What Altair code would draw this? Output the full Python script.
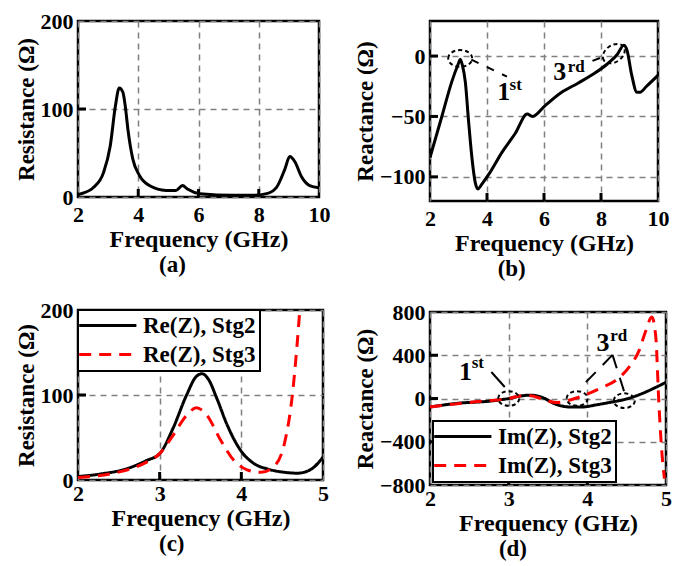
import altair as alt
import pandas as pd

FONT = "Liberation Serif"

# ---------------- data ----------------
# (a) resistance vs frequency, 2-10 GHz
a_freq = [2.0, 2.09, 2.52, 2.85, 3.07, 3.24, 3.37, 3.49, 3.57, 3.66, 3.82, 4.04, 4.37, 4.92,
          5.25, 5.47, 5.63, 6.05, 7.15, 7.82, 8.26, 8.59, 8.87, 9.03, 9.2, 9.42, 9.69, 10.0]
a_res = [2.6, 3.5, 11, 28, 58, 103, 124, 119, 103, 76, 43, 24.5, 13, 7.5,
         7.5, 13, 9, 3.8, 1.9, 1.9, 3.8, 11, 32, 46, 40, 23, 13, 10.6]

# (b) reactance vs frequency, 2-10 GHz
b_freq = [2.0, 2.41, 2.76, 3.0, 3.06, 3.14, 3.24, 3.35, 3.47, 3.59, 3.68, 3.82, 4.06, 4.53,
          5.0, 5.41, 5.6, 6.04, 6.62, 7.19, 7.76, 8.22, 8.57, 8.80, 8.91, 9.08, 9.26, 9.37, 9.60, 10.0]
b_reac = [-84, -50.5, -21.6, -6, -2.6, -8, -21.6, -53, -84, -105, -110, -106, -98, -79.5,
          -63.7, -48, -50, -41, -30, -22.5, -14.5, -6.6, 1.3, 9, 5, -16, -30, -30, -25, -16]

# (c) resistance, two stages, 2-5 GHz
c_series = ["Re(Z), Stg2", "Re(Z), Stg3"]
c_freq_s2 = [2.0, 2.27, 2.59, 2.84, 3.0, 3.16, 3.33, 3.45, 3.52, 3.60, 3.70, 3.83, 3.99,
             4.16, 4.32, 4.53, 4.69, 4.86, 5.0]
c_res_s2 = [4, 7, 13, 23, 31, 60, 100, 122, 125, 118, 96, 64, 35,
            19, 13, 9, 8, 13, 27]
c_freq_s3 = [2.0, 2.48, 2.84, 3.0, 3.16, 3.33, 3.45, 3.58, 3.74, 3.91, 4.07, 4.24, 4.41,
             4.53, 4.62, 4.68, 4.72]
c_res_s3 = [3, 9, 21, 31, 52, 76, 85, 76, 48, 23, 12, 9, 17,
            44, 96, 156, 205]

# (d) reactance, two stages, 2-5 GHz
d_series = ["Im(Z), Stg2", "Im(Z), Stg3"]
d_freq_s2 = [2.0, 2.36, 2.79, 3.0, 3.17, 3.28, 3.43, 3.6, 3.77, 3.94, 4.11, 4.28, 4.49,
             4.7, 4.87, 5.0]
d_reac_s2 = [-78, -44, -22, 0, 25, 31, 9, -53, -78, -78, -59, -37, -6,
             47, 103, 150]
d_freq_s3 = [2.0, 2.57, 3.0, 3.17, 3.28, 3.43, 3.6, 3.77, 4.0, 4.19, 4.36, 4.53, 4.66,
             4.74, 4.82, 4.87, 4.91, 4.95, 4.98]
d_reac_s3 = [-78, -31, 0, 25, 25, -6, -37, -16, 41, 103, 166, 291, 447,
             619, 753, 572, -53, -522, -741]

# axis tick labels
ab_xticks = [2, 4, 6, 8, 10]
cd_xticks = [2, 3, 4, 5]
a_yticks = [0, 100, 200]
b_yticks = [-100, -50, 0]
c_yticks = [0, 100, 200]
d_yticks = [-800, -400, 0, 400, 800]

# inward tick marks
a_xin, a_yin = [4, 6, 8], [100]
b_xin, b_yin = [4, 6, 8], [-100, -50, 0]
c_xin, c_yin = [3, 4], [100]
d_xin, d_yin = [3, 4], [-400, 0, 400]

# annotations (data coordinates)
b_ell_f, b_ell_v, b_ell_ang = [3.06, 8.45], [-2, 2], [0, 325]
b_lines = [  # (f1, v1, f2, v2)
    (3.45, -3, 4.7, -17),
    (7.7, -4, 8.15, 0),
]
b_main_txt = [("1", 4.59, -36), ("3", 6.55, -20)]
b_sup_txt = [("st", 4.79, -28), ("rd", 6.83, -13)]

d_ell_f, d_ell_v = [3.0, 3.87, 4.47], [0, 0, -20]
d_solid_lines = [(2.78, 245, 2.95, 106)]
d_dash_lines = [(4.32, 403, 3.91, 98), (4.32, 403, 4.47, 60)]
d_main_txt = [("1", 2.45, 171), ("3", 4.2, 440)]
d_sup_txt = [("st", 2.53, 282), ("rd", 4.29, 532)]

ELLIPSE = "M-1,0A1,0.7,0,1,1,1,0A1,0.7,0,1,1,-1,0Z"
LEGEND_LINE = "M-2.6,0L7.8,0"

AXIS_STYLE = dict(
    grid=True, ticks=False, domain=False, gridColor="#808080", gridDash=[6, 5], gridWidth=1.5,
    labelFlush=False, labelOverlap=False, format="d",
    labelFont=FONT, labelFontSize=22, labelFontWeight="bold", labelColor="black",
    titleFont=FONT, titleFontWeight="bold", titleColor="black",
)


# ---------------- helpers ----------------
def xaxis(values, label_pad=7):
    return alt.Axis(values=values, title="Frequency (GHz)", labelPadding=label_pad,
                    titlePadding=2, titleFontSize=24, **AXIS_STYLE)


def yaxis(values, title):
    return alt.Axis(values=values, title=title, labelPadding=5, titlePadding=2,
                    titleFontSize=23, **AXIS_STYLE)


def inward_ticks(xin, yin, xs, ys, h):
    xt = alt.Chart(pd.DataFrame({"t": xin})).mark_rule(color="black", strokeWidth=3).encode(
        x=alt.X("t:Q", scale=xs), y=alt.value(h), y2=alt.value(h - 8))
    yt = alt.Chart(pd.DataFrame({"t": yin})).mark_rule(color="black", strokeWidth=3).encode(
        y=alt.Y("t:Q", scale=ys), x=alt.value(0), x2=alt.value(8))
    return [xt, yt]


def seg_layer(lines, xs, ys, dash=None):
    df = pd.DataFrame(lines, columns=["f1", "v1", "f2", "v2"])
    kw = dict(color="black", strokeWidth=2)
    if dash:
        kw["strokeDash"] = dash
    return alt.Chart(df).mark_rule(**kw).encode(
        x=alt.X("f1:Q", scale=xs), y=alt.Y("v1:Q", scale=ys),
        x2="f2:Q", y2="v2:Q")


def text_layers(main, sup, xs, ys):
    mdf = pd.DataFrame(main, columns=["s", "f", "v"])
    sdf = pd.DataFrame(sup, columns=["s", "f", "v"])
    m = alt.Chart(mdf).mark_text(font=FONT, fontSize=26, fontWeight="bold", align="center",
                                 baseline="alphabetic", color="black").encode(
        x=alt.X("f:Q", scale=xs), y=alt.Y("v:Q", scale=ys), text="s:N")
    s = alt.Chart(sdf).mark_text(font=FONT, fontSize=17, fontWeight="bold", align="left",
                                 baseline="alphabetic", color="black").encode(
        x=alt.X("f:Q", scale=xs), y=alt.Y("v:Q", scale=ys), text="s:N")
    return [m, s]


def ellipse_layer(fs, vs, xs, ys, size, angles=None):
    df = pd.DataFrame({"f": fs, "v": vs, "a": angles if angles else [0] * len(fs)})
    return alt.Chart(df).mark_point(shape=ELLIPSE, filled=False, stroke="black", strokeWidth=2,
                                    strokeDash=[4, 3], opacity=1).encode(
        x=alt.X("f:Q", scale=xs), y=alt.Y("v:Q", scale=ys),
        size=alt.value(size), angle=alt.Angle("a:Q", scale=None))


def panel_title(t):
    return alt.TitleParams(text=t, orient="bottom", anchor="middle", frame="bounds", font=FONT,
                           fontSize=23, fontWeight="bold", color="black", offset=3)


LINE = dict(strokeWidth=3, clip=True, interpolate="monotone")

# ---------------- panel (a) ----------------
axs = alt.Scale(domain=[2, 10], nice=False, zero=False)
ays = alt.Scale(domain=[0, 200], nice=False, zero=False)
a_df = pd.DataFrame({"f": a_freq, "v": a_res})
a_line = alt.Chart(a_df).mark_line(color="black", **LINE).encode(
    x=alt.X("f:Q", scale=axs, axis=xaxis(ab_xticks)),
    y=alt.Y("v:Q", scale=ays, axis=yaxis(a_yticks, "Resistance (Ω)")))
A_W, A_H = 241, 176
panel_a = alt.layer(a_line, *inward_ticks(a_xin, a_yin, axs, ays, A_H)).properties(
    width=A_W, height=A_H, title=panel_title("(a)"))

# ---------------- panel (b) ----------------
bxs = alt.Scale(domain=[2, 10], nice=False, zero=False)
bys = alt.Scale(domain=[-120, 29], nice=False, zero=False)
b_df = pd.DataFrame({"f": b_freq, "v": b_reac})
b_line = alt.Chart(b_df).mark_line(color="black", **LINE).encode(
    x=alt.X("f:Q", scale=bxs, axis=xaxis(ab_xticks)),
    y=alt.Y("v:Q", scale=bys, axis=yaxis(b_yticks, "Reactance (Ω)")))
B_W, B_H = 228, 180
panel_b = alt.layer(
    b_line, *inward_ticks(b_xin, b_yin, bxs, bys, B_H),
    ellipse_layer(b_ell_f, b_ell_v, bxs, bys, 576, b_ell_ang),
    seg_layer(b_lines, bxs, bys, dash=[8, 9]),
    *text_layers(b_main_txt, b_sup_txt, bxs, bys),
).properties(width=B_W, height=B_H, title=panel_title("(b)"))

# ---------------- panel (c) ----------------
cxs = alt.Scale(domain=[2, 5], nice=False, zero=False)
cys = alt.Scale(domain=[0, 200], nice=False, zero=False)
c_df = pd.DataFrame({
    "f": c_freq_s2 + c_freq_s3,
    "v": c_res_s2 + c_res_s3,
    "s": [c_series[0]] * len(c_freq_s2) + [c_series[1]] * len(c_freq_s3),
})
c_leg = alt.Legend(orient="top-left", offset=0, title=None)
c_line = alt.Chart(c_df).mark_line(**LINE).encode(
    x=alt.X("f:Q", scale=cxs, axis=xaxis(cd_xticks, 3)),
    y=alt.Y("v:Q", scale=cys, axis=yaxis(c_yticks, "Resistance (Ω)")),
    color=alt.Color("s:N", scale=alt.Scale(domain=c_series, range=["black", "red"]), legend=c_leg),
    strokeDash=alt.StrokeDash("s:N", scale=alt.Scale(domain=c_series, range=[[1, 0], [12, 8]]),
                              legend=c_leg),
)
C_W, C_H = 245, 170
panel_c = alt.layer(c_line, *inward_ticks(c_xin, c_yin, cxs, cys, C_H)).properties(
    width=C_W, height=C_H, title=panel_title("(c)"))

# ---------------- panel (d) ----------------
dxs = alt.Scale(domain=[2, 5], nice=False, zero=False)
dys = alt.Scale(domain=[-800, 800], nice=False, zero=False)
d_df = pd.DataFrame({
    "f": d_freq_s2 + d_freq_s3,
    "v": d_reac_s2 + d_reac_s3,
    "s": [d_series[0]] * len(d_freq_s2) + [d_series[1]] * len(d_freq_s3),
})
d_leg = alt.Legend(orient="bottom-left", offset=3, title=None)
d_line = alt.Chart(d_df).mark_line(**LINE).encode(
    x=alt.X("f:Q", scale=dxs, axis=xaxis(cd_xticks, 3)),
    y=alt.Y("v:Q", scale=dys, axis=yaxis(d_yticks, "Reactance (Ω)")),
    color=alt.Color("s:N", scale=alt.Scale(domain=d_series, range=["black", "red"]), legend=d_leg),
    strokeDash=alt.StrokeDash("s:N", scale=alt.Scale(domain=d_series, range=[[1, 0], [12, 8]]),
                              legend=d_leg),
)
D_W, D_H = 236, 173
panel_d = alt.layer(
    d_line, *inward_ticks(d_xin, d_yin, dxs, dys, D_H),
    ellipse_layer(d_ell_f, d_ell_v, dxs, dys, 441),
    seg_layer(d_solid_lines, dxs, dys),
    seg_layer(d_dash_lines, dxs, dys, dash=[14, 10]),
    *text_layers(d_main_txt, d_sup_txt, dxs, dys),
).properties(width=D_W, height=D_H, title=panel_title("(d)"))

left_col = alt.vconcat(panel_a, panel_c, spacing=18).resolve_scale(
    color="independent", strokeDash="independent")
right_col = alt.vconcat(panel_b, panel_d, spacing=16).resolve_scale(
    color="independent", strokeDash="independent")

chart = alt.hconcat(left_col, right_col, spacing=21).resolve_scale(
    color="independent", strokeDash="independent"
).properties(
    padding={"left": 5, "top": 0, "right": 0, "bottom": 0}
).configure_view(
    stroke="black", strokeWidth=2.5
).configure_legend(
    labelFont=FONT, labelFontSize=23, labelFontWeight="bold", labelColor="black",
    strokeColor="black", fillColor="white", padding=4, symbolType=LEGEND_LINE,
    symbolStrokeWidth=3, symbolSize=121, labelOffset=38, labelLimit=0, strokeWidth=2,
    rowPadding=5,
)

chart.save("out.html", embed_options={"renderer": "svg", "actions": False})
